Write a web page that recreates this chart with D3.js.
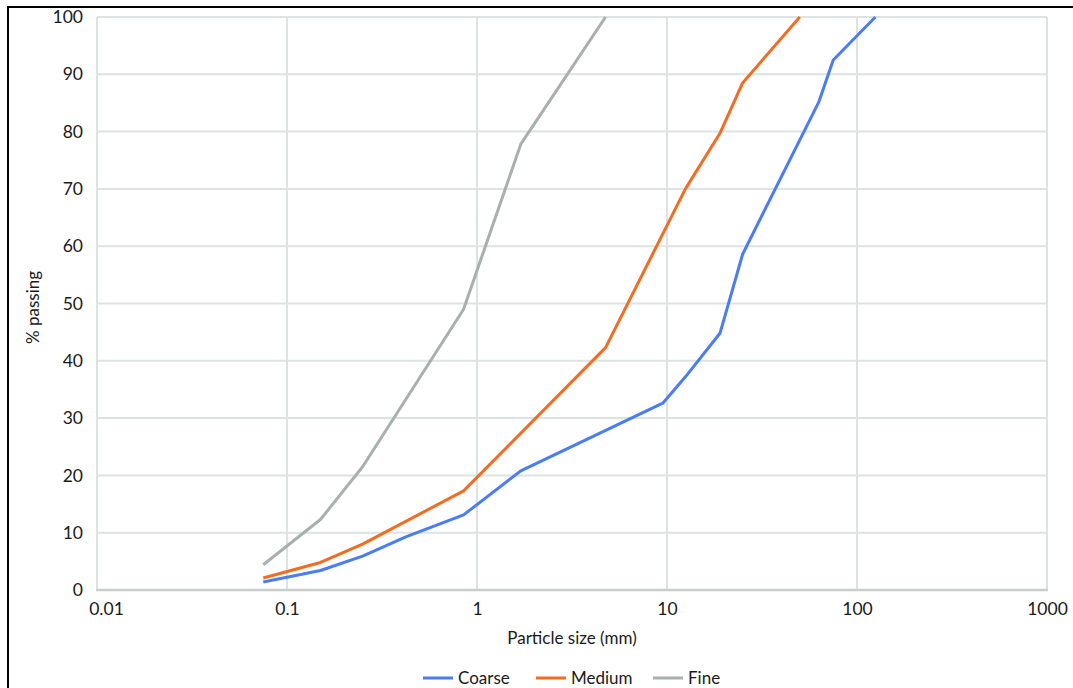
<!DOCTYPE html>
<html>
<head>
<meta charset="utf-8">
<script src="https://cdn.jsdelivr.net/npm/d3@7"></script>
<style>
  body { margin: 0; background: #fff; }
  svg text { font-family: Lato, "Open Sans", sans-serif; fill: #1a1a1a; }
</style>
</head>
<body>
<svg id="figure"></svg>
<script>
// sieve sizes (mm) and % passing
const coarseSize = [0.075, 0.15, 0.25, 0.425, 0.85, 1.7, 9.5, 12.5, 19, 25, 63, 75, 125];
const coarsePass = [1.4, 3.4, 5.9, 9.3, 13.1, 20.8, 32.6, 37.2, 44.8, 58.6, 85.2, 92.5, 100];
const mediumSize = [0.075, 0.15, 0.25, 0.85, 4.75, 12.5, 19, 25, 50];
const mediumPass = [2.1, 4.8, 8.0, 17.3, 42.3, 70, 79.7, 88.5, 100];
const fineSize = [0.075, 0.15, 0.25, 0.85, 1.7, 4.75];
const finePass = [4.4, 12.3, 21.5, 49.0, 77.8, 100];

const xTicks = [0.01, 0.1, 1, 10, 100, 1000];
const yTicks = [0, 10, 20, 30, 40, 50, 60, 70, 80, 90, 100];

const series = [
  {name: "Coarse", color: "#4a7cf6", sizes: coarseSize, pass: coarsePass},
  {name: "Medium", color: "#f36c21", sizes: mediumSize, pass: mediumPass},
  {name: "Fine", color: "#a7b0ad", sizes: fineSize, pass: finePass}
];

const W = 1073, H = 688;
const margin = {top: 17, right: 26, bottom: 98, left: 97};
const width = W - margin.left - margin.right;
const height = H - margin.top - margin.bottom;

const root = d3.select("#figure").attr("width", W).attr("height", H);

// frame of the figure (top and left edges only)
root.append("path")
  .attr("d", "M8,688 L8,7 L1073,7")
  .attr("fill", "none")
  .attr("stroke", "#000")
  .attr("stroke-width", 2);

const svg = root.append("g")
  .attr("transform", "translate(" + margin.left + "," + margin.top + ")");

const x = d3.scaleLog().domain([0.01, 1000]).range([0, width]);
const y = d3.scaleLinear().domain([0, 100]).range([height, 0]);

// grid
svg.append("g")
  .selectAll("line.hgrid")
  .data(yTicks.filter(d => d > 0))
  .enter().append("line")
  .attr("class", "hgrid")
  .attr("x1", 0).attr("x2", width)
  .attr("y1", d => y(d)).attr("y2", d => y(d))
  .attr("stroke", "#dde3e2").attr("stroke-width", 2);

svg.append("g")
  .selectAll("line.vgrid")
  .data(xTicks)
  .enter().append("line")
  .attr("class", "vgrid")
  .attr("x1", d => x(d)).attr("x2", d => x(d))
  .attr("y1", 0).attr("y2", height)
  .attr("stroke", "#dde3e2").attr("stroke-width", 2);

// bottom axis line
svg.append("line")
  .attr("x1", -1).attr("x2", width + 1)
  .attr("y1", height).attr("y2", height)
  .attr("stroke", "#c6cdcc").attr("stroke-width", 2.5);

// x axis
const xAxis = svg.append("g")
  .attr("transform", "translate(0," + height + ")")
  .call(d3.axisBottom(x).tickValues(xTicks).tickSize(0).tickPadding(13)
    .tickFormat(d => String(d)));
xAxis.select(".domain").remove();
xAxis.selectAll("text").style("font-size", "17.5px");
xAxis.selectAll(".tick").filter((d, i) => i === 0).select("text").attr("dx", 9);

// y axis
const yAxis = svg.append("g")
  .call(d3.axisLeft(y).tickValues(yTicks).tickSize(0).tickPadding(14));
yAxis.select(".domain").remove();
yAxis.selectAll("text").style("font-size", "17.5px");

// axis titles
svg.append("text")
  .attr("x", width / 2).attr("y", height + 54)
  .attr("text-anchor", "middle")
  .style("font-size", "17px")
  .text("Particle size (mm)");

svg.append("text")
  .attr("transform", "translate(-58," + (height / 2 + 4) + ") rotate(-90)")
  .attr("text-anchor", "middle")
  .style("font-size", "17px")
  .text("% passing");

// lines
const line = d3.line()
  .x(d => x(d[0]))
  .y(d => y(d[1]));

svg.selectAll("path.serie")
  .data(series)
  .enter().append("path")
  .attr("class", "serie")
  .attr("fill", "none")
  .attr("stroke", d => d.color)
  .attr("stroke-width", 3)
  .attr("stroke-linejoin", "round")
  .attr("d", d => line(d.sizes.map((s, i) => [s, d.pass[i]])));

// legend
const legendX = [423, 536, 653];
const legend = root.append("g")
  .selectAll("g")
  .data(series)
  .enter().append("g")
  .attr("transform", (d, i) => "translate(" + legendX[i] + ",678)");

legend.append("line")
  .attr("x1", 0).attr("x2", 30)
  .attr("stroke", d => d.color)
  .attr("stroke-width", 3);

legend.append("text")
  .attr("x", 35).attr("dy", "0.35em")
  .style("font-size", "17px")
  .text(d => d.name);
</script>
</body>
</html>
